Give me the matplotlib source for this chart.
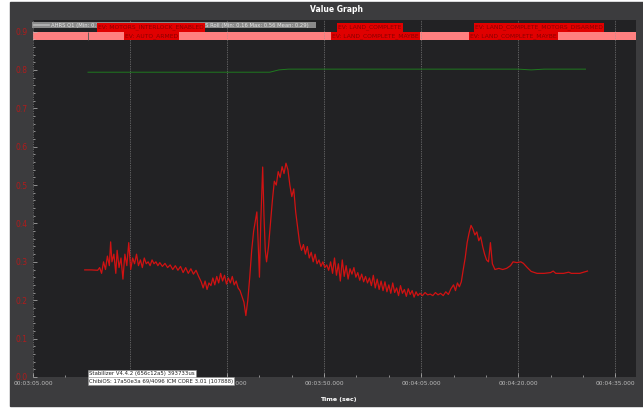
import matplotlib
matplotlib.use("Agg")
import matplotlib.pyplot as plt
import matplotlib.transforms as mtransforms
from matplotlib.patches import Rectangle
from matplotlib.lines import Line2D
from matplotlib.ticker import FixedLocator, MultipleLocator, FuncFormatter

# time in seconds
roll_t = [193.0, 194.0, 195.0, 195.3, 195.6, 195.9, 196.2, 196.5, 196.8, 197.0,
          197.2, 197.5, 197.8, 198.0, 198.3, 198.6, 198.9, 199.2, 199.5, 199.8,
          200.1, 200.4, 200.7, 201.0, 201.3, 201.6, 201.9, 202.2, 202.5, 202.8,
          203.1, 203.4, 203.7, 204.0, 204.3, 204.6, 205.0, 205.4, 205.8, 206.2,
          206.6, 207.0, 207.4, 207.8, 208.2, 208.6, 209.0, 209.4, 209.8, 210.2,
          210.6, 211.0, 211.3, 211.6, 211.9, 212.2, 212.5, 212.8, 213.1, 213.4,
          213.7, 214.0, 214.3, 214.6, 214.9, 215.2, 215.5, 215.8, 216.1, 216.4,
          216.7, 217.0, 217.3, 217.6, 217.9, 218.2, 218.5, 218.8, 219.1, 219.4,
          219.6, 219.8, 220.0, 220.2, 220.5, 220.7, 220.9, 221.1, 221.4, 221.7,
          222.0, 222.3, 222.6, 222.9, 223.2, 223.5, 223.8, 224.1, 224.4, 224.7,
          225.0, 225.3, 225.6, 225.9, 226.2, 226.5, 226.8, 227.1, 227.4, 227.7,
          228.0, 228.3, 228.6, 228.9, 229.2, 229.5, 229.8, 230.1, 230.4, 230.7,
          231.0, 231.3, 231.6, 231.9, 232.2, 232.5, 232.8, 233.1, 233.4, 233.7,
          234.0, 234.3, 234.6, 234.9, 235.2, 235.5, 235.8, 236.1, 236.4, 236.7,
          237.0, 237.3, 237.6, 237.9, 238.2, 238.5, 238.8, 239.1, 239.4, 239.7,
          240.0, 240.3, 240.6, 240.9, 241.2, 241.5, 241.8, 242.1, 242.4, 242.7,
          243.0, 243.3, 243.6, 243.9, 244.2, 244.5, 244.8, 245.2, 245.6, 246.0,
          246.4, 246.8, 247.2, 247.6, 248.0, 248.4, 248.8, 249.2, 249.6, 250.0,
          250.3, 250.6, 250.9, 251.2, 251.5, 251.8, 252.1, 252.4, 252.7, 253.0,
          253.3, 253.6, 253.9, 254.2, 254.5, 254.8, 255.1, 255.4, 255.7, 256.0,
          256.4, 257.0, 257.6, 258.2, 258.8, 259.2, 259.8, 260.4, 260.8, 261.4,
          262.0, 262.9, 264.0, 265.0, 265.4, 265.8, 267.0, 267.8, 268.2, 269.5,
          270.3, 270.7]
roll_v = [0.279, 0.279, 0.278, 0.285, 0.270, 0.300, 0.280, 0.315, 0.290, 0.352,
          0.300, 0.320, 0.270, 0.330, 0.285, 0.310, 0.255, 0.320, 0.290, 0.350,
          0.280, 0.310, 0.295, 0.320, 0.290, 0.305, 0.285, 0.310, 0.295, 0.300,
          0.290, 0.305, 0.295, 0.300, 0.290, 0.298, 0.288, 0.296, 0.285, 0.292,
          0.280, 0.290, 0.278, 0.288, 0.272, 0.285, 0.270, 0.282, 0.268, 0.278,
          0.262, 0.248, 0.232, 0.250, 0.228, 0.245, 0.238, 0.258, 0.240, 0.262,
          0.245, 0.270, 0.250, 0.265, 0.242, 0.258, 0.245, 0.262, 0.240, 0.250,
          0.232, 0.225, 0.210, 0.195, 0.160, 0.200, 0.260, 0.330, 0.380, 0.410,
          0.430, 0.350, 0.260, 0.400, 0.547, 0.420, 0.330, 0.300, 0.340, 0.400,
          0.460, 0.510, 0.500, 0.535, 0.520, 0.548, 0.530, 0.557, 0.540, 0.500,
          0.470, 0.490, 0.430, 0.390, 0.350, 0.330, 0.345, 0.320, 0.340, 0.310,
          0.325, 0.300, 0.320, 0.295, 0.305, 0.288, 0.300, 0.285, 0.292, 0.278,
          0.300, 0.270, 0.310, 0.265, 0.295, 0.250, 0.305, 0.262, 0.290, 0.255,
          0.282, 0.268, 0.285, 0.260, 0.272, 0.252, 0.268, 0.248, 0.262, 0.245,
          0.258, 0.238, 0.265, 0.232, 0.255, 0.228, 0.250, 0.225, 0.248, 0.222,
          0.240, 0.218, 0.245, 0.220, 0.232, 0.212, 0.238, 0.218, 0.228, 0.210,
          0.230, 0.215, 0.225, 0.208, 0.222, 0.212, 0.218, 0.212, 0.220, 0.214,
          0.216, 0.212, 0.220, 0.214, 0.218, 0.212, 0.222, 0.215, 0.230, 0.240,
          0.225, 0.245, 0.235, 0.248, 0.280, 0.310, 0.350, 0.375, 0.395, 0.385,
          0.370, 0.378, 0.355, 0.365, 0.340, 0.320, 0.305, 0.300, 0.350, 0.295,
          0.280, 0.283, 0.280, 0.283, 0.290, 0.300, 0.298, 0.300, 0.296, 0.285,
          0.275, 0.270, 0.270, 0.272, 0.276, 0.270, 0.270, 0.273, 0.270, 0.270,
          0.274, 0.276]

q1_t = [193.5, 221.6, 223.0, 224.5, 260.0, 262.0, 264.0, 270.4]
q1_v = [0.794, 0.794, 0.800, 0.802, 0.802, 0.800, 0.802, 0.802]

# x ticks (seconds): 00:03:05 ... 00:04:35
xticks = [185, 200, 215, 230, 245, 260, 275]
xminor = [190, 195, 205, 210, 220, 225, 235, 240, 250, 255, 265, 270]

event_t = [195.05, 199.2, 232.2, 231.2, 253.3, 252.6]
event_row = [0, 1, 0, 1, 0, 1]
event_names = ["EV: MOTORS_INTERLOCK_ENABLED", "EV: AUTO_ARMED",
               "EV: LAND_COMPLETE", "EV: LAND_COMPLETE_MAYBE",
               "EV: LAND_COMPLETE_MOTORS_DISARMED", "EV: LAND_COMPLETE_MAYBE"]

legend_q1 = "AHRS Q1 (Min: 0.79 Max: 0.80 Mean: 0.80)"
legend_roll = "AHRS Roll (Min: 0.16 Max: 0.56 Mean: 0.29)"
stamp1 = "Stabilizer V4.4.2 (656c12a5) 393733us"
stamp2 = "ChibiOS: 17a50e3a 69/4096 ICM CORE 3.01 (107888)"

W, H = 643, 408
def fx(x): return x / W
def fy(y): return 1 - y / H

bg = "#3c3c3e"
fig = plt.figure(figsize=(W / 100, H / 100), dpi=100, facecolor="white")
fig.add_artist(Rectangle((fx(10), 2 / H), (W - 10) / W, (H - 4) / H,
                         transform=fig.transFigure, color=bg, zorder=-10))

ax = fig.add_axes([fx(33), fy(377), (636 - 33) / W, (377 - 20) / H])
ax.set_facecolor("#222224")
ax.set_xlim(185, 278.2)
ax.set_ylim(0, 0.93)

# mode band
ax.axhspan(0.878, 0.898, color="#ff8080", zorder=2, lw=0)
ax.vlines(q1_t[0], 0.878, 0.898, color="#555555", lw=0.6, zorder=3)

ax.plot(q1_t, q1_v, color="#1f7a1f", lw=0.7, zorder=4)
ax.plot(roll_t, roll_v, color="#d01212", lw=0.9, zorder=4)

def tfmt(t, pos):
    return "00:%02d:%02d.000" % (int(t // 60), int(round(t % 60)))

ax.xaxis.set_major_locator(FixedLocator(xticks))
ax.xaxis.set_minor_locator(FixedLocator(xminor))
ax.xaxis.set_major_formatter(FuncFormatter(tfmt))
ax.yaxis.set_major_locator(MultipleLocator(0.1))
ax.yaxis.set_minor_locator(MultipleLocator(0.02))
ax.yaxis.set_major_formatter(FuncFormatter(lambda v, p: "%.1f" % v))

ax.tick_params(axis="x", which="both", direction="in", color="#bbbbbb",
               labelcolor="#bbbbbb", labelsize=4.2, pad=3, width=0.5)
ax.tick_params(axis="x", which="major", length=3)
ax.tick_params(axis="x", which="minor", length=1.5)
ax.tick_params(axis="y", which="both", direction="in", color="#bbbbbb",
               labelcolor="#b01c1c", labelsize=5.5, pad=4, width=0.5)
ax.tick_params(axis="y", which="major", length=3)
ax.tick_params(axis="y", which="minor", length=1.5)
for s in ax.spines.values():
    s.set_visible(False)

ax.grid(axis="x", which="major", color="#9a9a9a", linestyle=(0, (1, 1.5)),
        linewidth=0.5, zorder=5)
ax.set_axisbelow(False)

# legend bar
ax.add_artist(Rectangle((fx(32), fy(28)), (316 - 32) / W, 6 / H,
                        transform=fig.transFigure, fc="#8a8a8a", ec="none",
                        zorder=8, clip_on=False))
ax.add_line(Line2D([fx(34), fx(49)], [fy(25), fy(25)], transform=fig.transFigure,
                   color="#b8b8b8", lw=1.2, zorder=9, clip_on=False))
ax.text(fx(51), fy(25), legend_q1, transform=fig.transFigure, fontsize=3.8,
        color="#e4e4e4", va="center", ha="left", zorder=9, clip_on=False)
ax.add_line(Line2D([fx(178), fx(192)], [fy(25), fy(25)], transform=fig.transFigure,
                   color="#cc1414", lw=1.2, zorder=9, clip_on=False))
ax.text(fx(194), fy(25), legend_roll, transform=fig.transFigure, fontsize=3.8,
        color="#e4e4e4", va="center", ha="left", zorder=9, clip_on=False)

# event labels
blend = mtransforms.blended_transform_factory(ax.transData, fig.transFigure)
row_y = [fy(27.5), fy(36)]
for t, r, name in zip(event_t, event_row, event_names):
    ax.text(t, row_y[r], name, transform=blend, fontsize=4.3, color="#8a0000",
            va="center", ha="left", zorder=10, clip_on=False,
            bbox=dict(boxstyle="square,pad=0.22", fc="#e00000", ec="none"))

# titles
fig.text(fx(337), fy(10), "Value Graph", ha="center", va="center",
         color="white", fontsize=5.5, weight="bold")
fig.text(fx(338), fy(400), "Time (sec)", ha="center", va="center",
         color="white", fontsize=4.5, weight="bold")

# firmware stamps
for y, s in [(374, stamp1), (381, stamp2)]:
    fig.text(fx(89), fy(y), s, ha="left", va="center", fontsize=3.9,
             color="#222222", zorder=20,
             bbox=dict(boxstyle="square,pad=0.2", fc="white", ec="#888888", lw=0.4))

fig.savefig("out.png", dpi=100, facecolor=fig.get_facecolor())
